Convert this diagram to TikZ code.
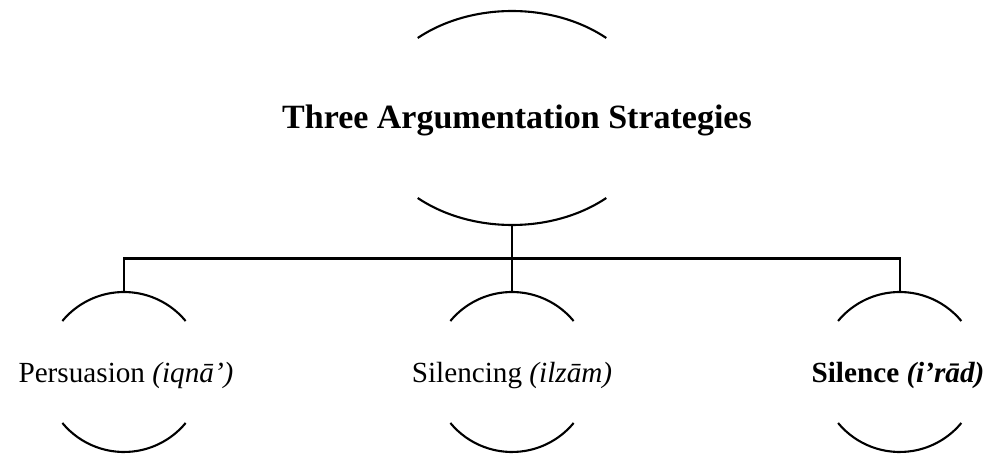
\documentclass[tikz,border=0pt]{standalone}
\usepackage{fontspec}
\setmainfont{Liberation Serif}
\begin{document}
\begin{tikzpicture}[x=1pt,y=1pt,line width=2.1pt,
  childtext/.style={font=\fontsize{29.2}{34}\selectfont,anchor=base,inner sep=0pt},
  roottext/.style={font=\bfseries\fontsize{34}{40}\selectfont,anchor=base,inner sep=0pt}]
\useasboundingbox (0,0) rectangle (997,455);

% root: ellipse outline shown as top and bottom arcs
\coordinate (rc) at (512,337);
\node[roottext] (root) at (517,326) {Three Argumentation Strategies};
\draw ([shift={(48.4:142pt and 107pt)}]rc) arc[start angle=48.4,end angle=131.6,x radius=142pt,y radius=107pt];
\draw ([shift={(228.4:142pt and 107pt)}]rc) arc[start angle=228.4,end angle=311.6,x radius=142pt,y radius=107pt];
\coordinate (rb) at ([yshift=-107pt]rc);

% children: circles shown as top and bottom arcs
\coordinate (c1) at (124,83);
\coordinate (c2) at (512,83);
\coordinate (c3) at (899.7,83);
\foreach \c in {c1,c2,c3}{
  \draw ([shift={(39.6:80pt)}]\c) arc[start angle=39.6,end angle=140.4,radius=80pt];
  \draw ([shift={(219.6:80pt)}]\c) arc[start angle=219.6,end angle=320.4,radius=80pt];
  \coordinate (\c top) at ([yshift=80pt]\c);
}
\node[childtext] (persuasion) at (126,72) {Persuasion \textit{(iqnā’)}};
\node[childtext] (silencing) at (512,72) {Silencing \textit{(ilzām)}};
\node[childtext] (silence) at (898,72) {\textbf{Silence \textit{(i’rād)}}};

% tree connectors
\coordinate (bus) at (512,196.5);
\draw (rb) -- (bus);
\draw (c1top) |- (bus) -| (c3top);
\draw (bus) -- (c2top);
\end{tikzpicture}
\end{document}
